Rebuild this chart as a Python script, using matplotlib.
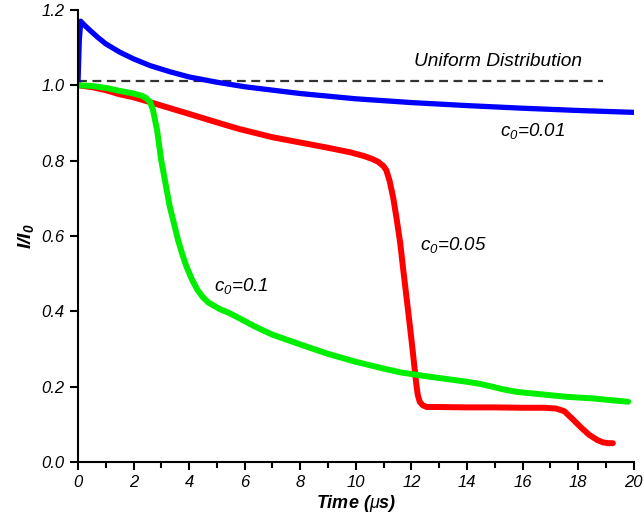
import numpy as np
import matplotlib.pyplot as plt
from matplotlib.ticker import MultipleLocator

plt.rcParams["font.family"] = "Liberation Sans"
plt.rcParams["mathtext.fontset"] = "custom"
plt.rcParams["mathtext.it"] = "Liberation Sans:italic"
plt.rcParams["mathtext.rm"] = "Liberation Sans:italic"
plt.rcParams["mathtext.bf"] = "Liberation Sans:italic:bold"

# c0 = 0.01 (blue)
t_blue = [0, 0.05, 0.1, 0.2, 0.4, 0.7, 1, 1.5, 2, 2.6, 3.3, 4, 5, 6, 7, 8, 10, 12,
          14, 16, 18, 20]
y_blue = [1.0, 1.12, 1.17, 1.162, 1.148, 1.128, 1.11, 1.088, 1.07, 1.052, 1.036,
          1.022, 1.008, 0.996, 0.987, 0.978, 0.964, 0.954, 0.946, 0.939, 0.933,
          0.928]

# c0 = 0.05 (red)
t_red = [0, 0.5, 1, 1.5, 2, 2.6, 3.5, 4.4, 5.2, 5.8, 7, 8, 9, 9.8, 10.3, 10.6,
         10.8, 11.0, 11.1, 11.22, 11.35, 11.47, 11.6, 11.7, 11.82, 11.94, 12.04,
         12.12, 12.18, 12.23, 12.3, 12.4, 12.55, 13, 14, 15, 16, 16.8, 17.2,
         17.5, 17.8, 18.1, 18.4, 18.7, 18.9, 19.1, 19.25]
y_red = [1.0, 0.995, 0.987, 0.976, 0.968, 0.955, 0.935, 0.915, 0.897, 0.884,
         0.862, 0.848, 0.834, 0.822, 0.812, 0.804, 0.797, 0.785, 0.774, 0.745,
         0.70, 0.645, 0.58, 0.515, 0.44, 0.365, 0.30, 0.245, 0.205, 0.178, 0.16,
         0.151, 0.146, 0.146, 0.145, 0.145, 0.144, 0.144, 0.142, 0.135, 0.114,
         0.092, 0.072, 0.058, 0.052, 0.05, 0.05]

# c0 = 0.1 (green)
t_green = [0, 0.5, 1, 1.5, 2, 2.3, 2.45, 2.6, 2.7, 2.85, 3.0, 3.15, 3.3, 3.45, 3.6,
           3.75, 3.9, 4.1, 4.3, 4.5, 4.7, 5.1, 5.4, 5.7, 6.1, 6.5, 7, 7.5, 8, 9,
           10, 11, 11.6, 12.5, 13.3, 14, 14.5, 14.9, 15.3, 15.8, 16.5, 17.6, 18.5,
           19.2, 19.8]
y_green = [1.0, 0.998, 0.993, 0.985, 0.978, 0.972, 0.966, 0.955, 0.935, 0.88,
           0.80, 0.74, 0.68, 0.635, 0.59, 0.553, 0.52, 0.485, 0.457, 0.437,
           0.423, 0.406, 0.397, 0.386, 0.37, 0.355, 0.338, 0.325, 0.312, 0.287,
           0.266, 0.248, 0.238, 0.228, 0.22, 0.213, 0.207, 0.2, 0.193, 0.186,
           0.181, 0.173, 0.169, 0.164, 0.16]

# uniform distribution reference
t_uniform = [0, 18.9]
y_uniform = [1.012, 1.012]

fig = plt.figure(figsize=(6.44, 5.2), dpi=100)
ax = fig.add_axes([0.121, 0.1115, 0.863, 0.8695])

line_kw = dict(solid_capstyle="round", solid_joinstyle="round")
ax.plot(t_uniform, y_uniform, color="#333333", lw=1.6, ls=(0, (4, 2.5)))
ax.plot(t_blue, y_blue, color="#0000ff", lw=3.8, **line_kw)
ax.plot(t_red, y_red, color="#ff0000", lw=4.3, **line_kw)
ax.plot(t_green, y_green, color="#00ee00", lw=4.3, **line_kw)

ax.text(12.1, 1.05, "Uniform Distribution", fontsize=13.8, style="italic")
ax.text(15.2, 0.866, "$c_0$=0.01", fontsize=13.5, style="italic")
ax.text(12.3, 0.562, "$c_0$=0.05", fontsize=13.5, style="italic")
ax.text(4.9, 0.455, "$c_0$=0.1", fontsize=13.5, style="italic")

ax.set_xlim(0, 20)
ax.set_ylim(0, 1.2)
ax.xaxis.set_major_locator(MultipleLocator(2))
ax.xaxis.set_minor_locator(MultipleLocator(1))
ax.yaxis.set_major_locator(MultipleLocator(0.2))
ax.yaxis.set_major_formatter(plt.FormatStrFormatter("%.1f"))

for s in ["top", "right"]:
    ax.spines[s].set_visible(False)
for s in ["left", "bottom"]:
    ax.spines[s].set_linewidth(1.5)

ax.tick_params(which="major", direction="out", length=6, width=1.5, labelsize=12)
ax.tick_params(which="minor", direction="out", length=4, width=1.5)
for lbl in ax.get_xticklabels() + ax.get_yticklabels():
    lbl.set_style("italic")

ax.set_xlabel("Time ($\\mu$s)", fontsize=13, fontweight="bold", style="italic", labelpad=2)
ax.set_ylabel("$\\mathbf{I/I_0}$", fontsize=14, labelpad=4)

fig.savefig("out.png", dpi=100)
